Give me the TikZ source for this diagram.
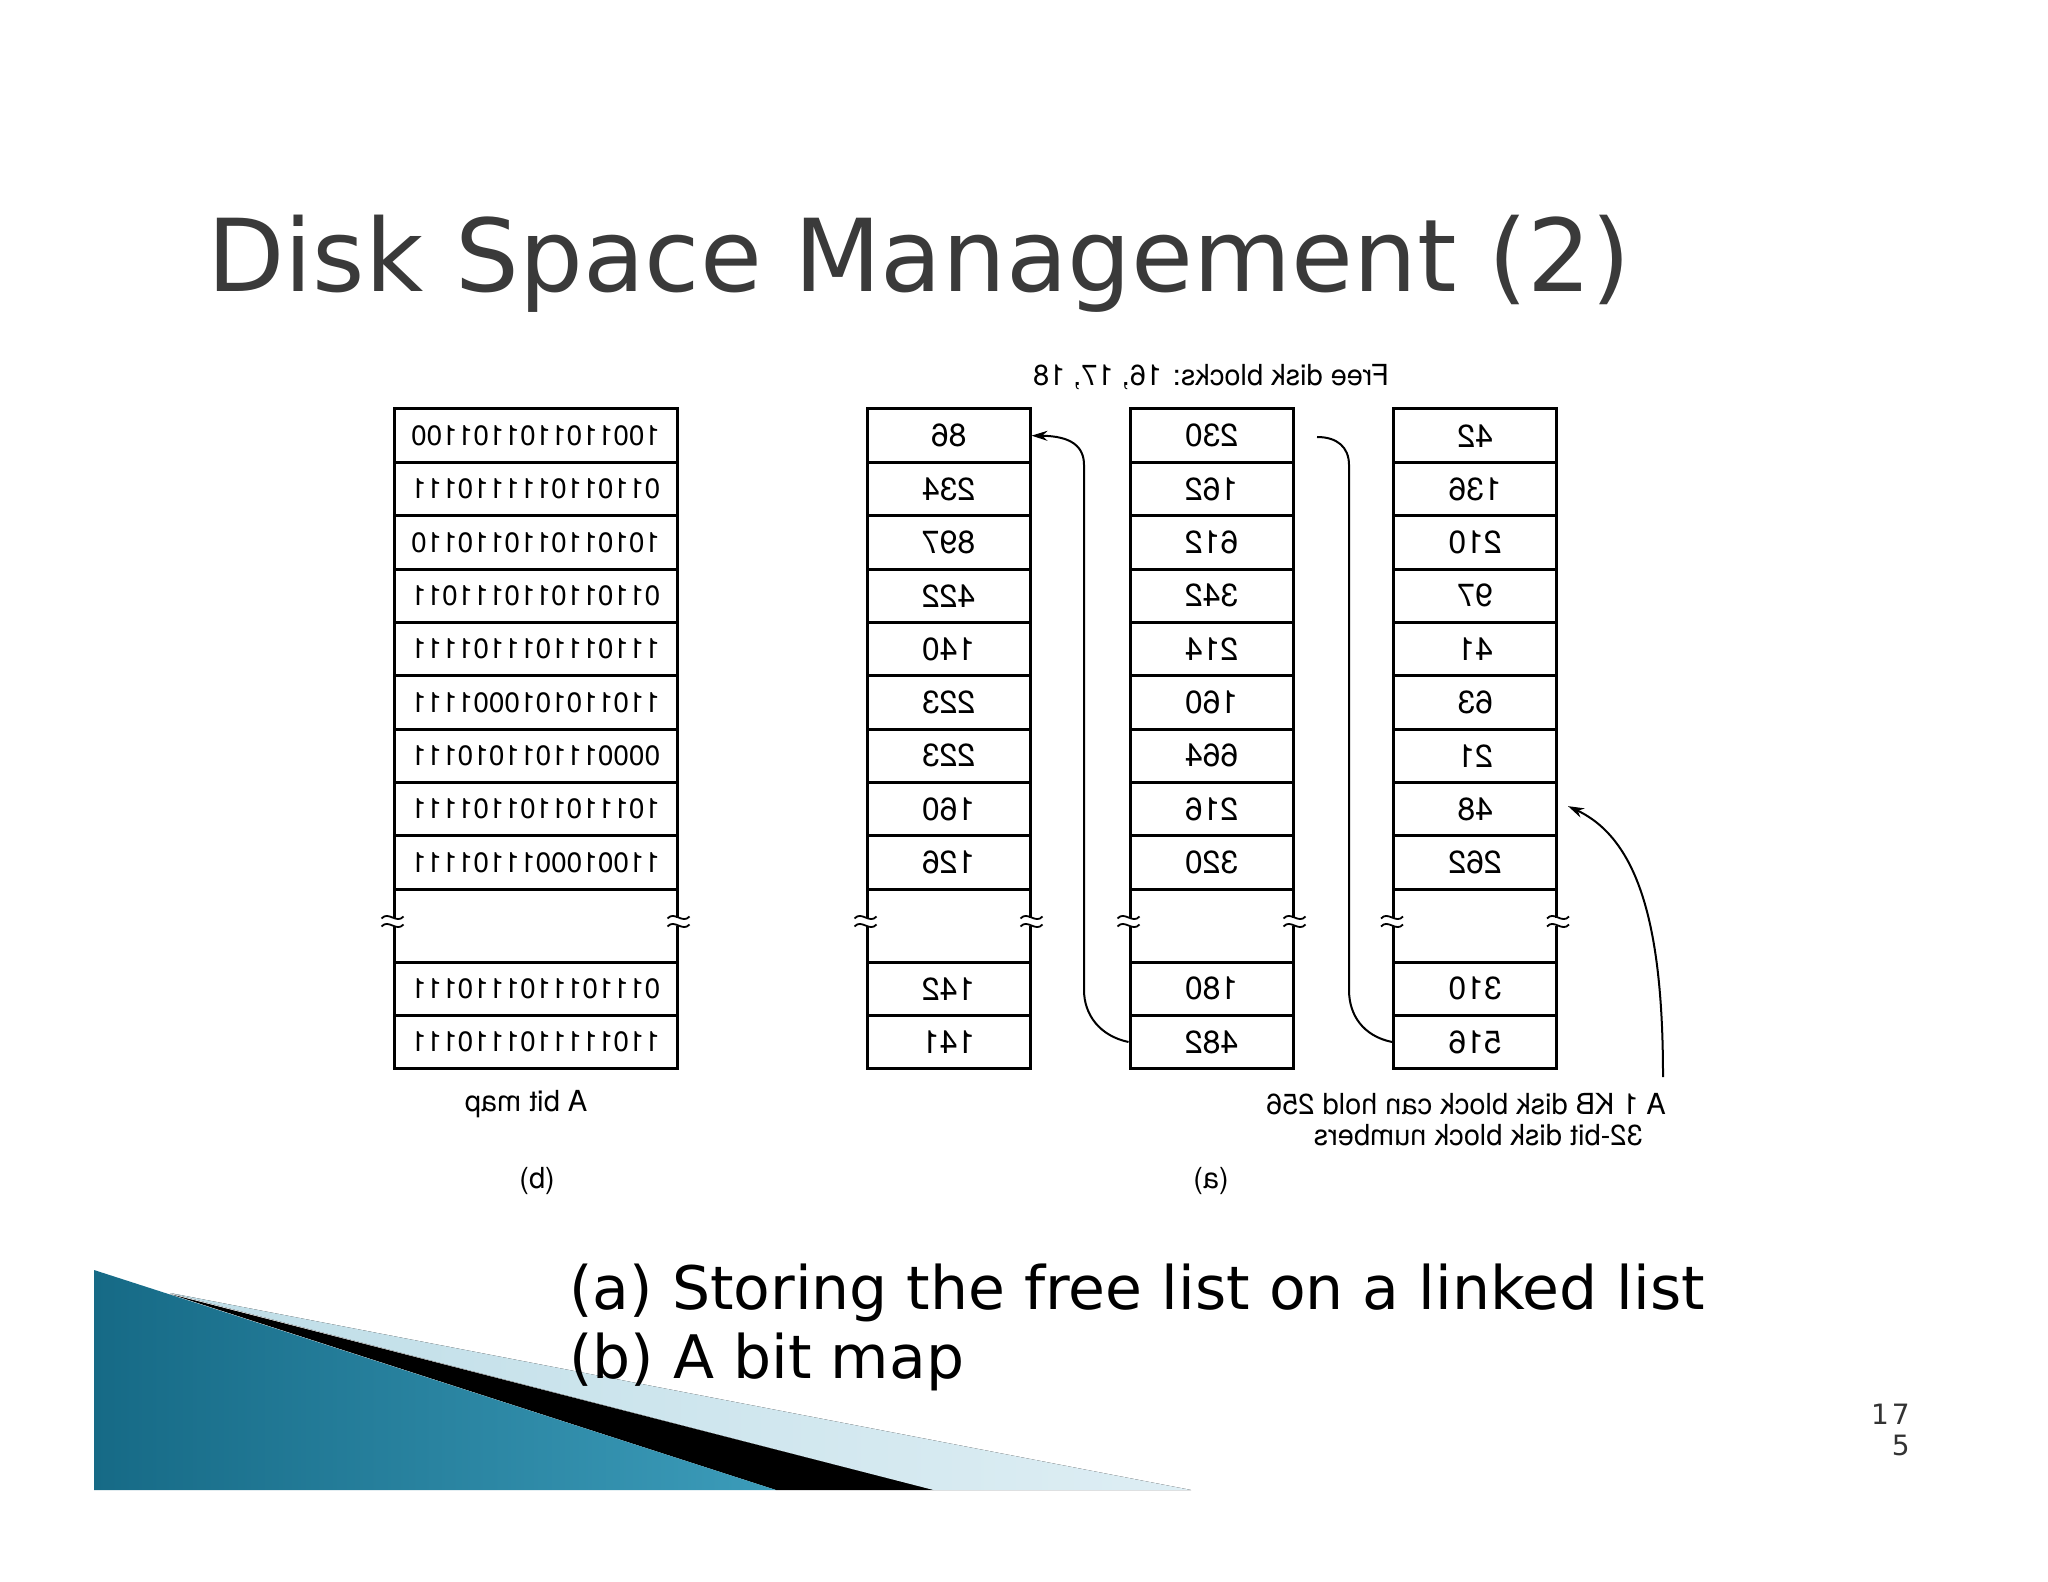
\documentclass[tikz,border=0pt]{standalone}
\usepackage{fontspec}
\setmainfont{DejaVu Sans}
\newfontfamily\arial{TeX Gyre Heros}
\usepackage{graphicx}
\usetikzlibrary{arrows.meta,calc}
\newcommand{\mir}[1]{\reflectbox{#1}}
\definecolor{titlegray}{RGB}{58,58,58}
\definecolor{tealA}{RGB}{22,106,134}
\definecolor{tealB}{RGB}{60,156,186}
\definecolor{paleA}{RGB}{190,221,231}
\definecolor{paleB}{RGB}{222,238,244}
\newcommand{\brkmark}[1]{%
  \begin{scope}[shift={(#1)},yshift=2pt]
    \fill[white] (-5,-4) rectangle (5,4);
    \draw[line width=0.9pt] (-11,-3) .. controls (-4,-11) and (4,3) .. (11,-5);
    \draw[line width=0.9pt] (-11,5) .. controls (-4,-3) and (4,11) .. (11,3);
  \end{scope}}
\begin{document}
\begin{tikzpicture}[x=0.5pt,y=-0.5pt,
  cell/.style={draw,line width=1.5pt,rectangle,inner sep=0pt,minimum height=26.675pt,
    font=\arial\fontsize{16}{18}\selectfont},
  listcell/.style={cell,minimum width=81.5pt},
  bitcell/.style={cell,minimum width=141.5pt,font=\arial\fontsize{14}{16}\selectfont},
  gapcell/.style={draw,line width=1.5pt,inner sep=0pt,minimum height=36.5pt},
  lbl/.style={inner sep=0pt,font=\arial\fontsize{14.5}{16}\selectfont},
  link/.style={line width=1pt},
  arrowed/.style={-{Stealth[length=8pt,width=5pt]}}
]
\fill[white] (0,0) rectangle (2048,1582);
\useasboundingbox (0,0) rectangle (2048,1582);

% decoration
\fill[left color=paleA,right color=paleB] (170,1293) -- (1191,1490) -- (933,1490) -- cycle;
\fill[black] (170,1294) -- (933,1490) -- (776,1490) -- cycle;
\shade[left color=tealA,right color=tealB] (94,1270) -- (776,1490) -- (94,1490) -- cycle;

% title
\node[anchor=base west,inner sep=0pt,text=titlegray,font=\fontsize{50.3}{56}\selectfont] (title) at (207,292) {Disk Space Management (2)};

% bitmap
\foreach \t [count=\i] in {1001101101101100,0110110111110111,1010110110110110,0110110110111011,1110111011101111,1101101010001111,0000111011010111,1011101101101111,1100100011101111}
  \node[bitcell] (b\i) at (535.5,{409+(\i-0.5)*53.35}) {\mir{\t}};
\node[gapcell,minimum width=141.5pt] (bg) at (535.5,925.5) {};
\node[bitcell] (b10) at (535.5,988.7) {\mir{0111011101110111}};
\node[bitcell] (b11) at (535.5,1042) {\mir{1101111101110111}};

% list column 1
\foreach \t [count=\i] in {86,234,897,422,140,223,223,160,126}
  \node[listcell] (p\i) at (948.5,{409+(\i-0.5)*53.35}) {\mir{\t}};
\node[gapcell,minimum width=81.5pt] (pg) at (948.5,925.5) {};
\node[listcell] (p10) at (948.5,988.7) {\mir{142}};
\node[listcell] (p11) at (948.5,1042) {\mir{141}};

% list column 2
\foreach \t [count=\i] in {230,162,612,342,214,160,664,216,320}
  \node[listcell] (q\i) at (1211.5,{409+(\i-0.5)*53.35}) {\mir{\t}};
\node[gapcell,minimum width=81.5pt] (qg) at (1211.5,925.5) {};
\node[listcell] (q10) at (1211.5,988.7) {\mir{180}};
\node[listcell] (q11) at (1211.5,1042) {\mir{482}};

% list column 3
\foreach \t [count=\i] in {42,136,210,97,41,63,21,48,262}
  \node[listcell] (r\i) at (1475,{409+(\i-0.5)*53.35}) {\mir{\t}};
\node[gapcell,minimum width=81.5pt] (rg) at (1475,925.5) {};
\node[listcell] (r10) at (1475,988.7) {\mir{310}};
\node[listcell] (r11) at (1475,1042) {\mir{516}};

% break marks
\brkmark{bg.west}\brkmark{bg.east}
\brkmark{pg.west}\brkmark{pg.east}
\brkmark{qg.west}\brkmark{qg.east}
\brkmark{rg.west}\brkmark{rg.east}

% labels
\node[lbl] (free) at (1211,377) {\mir{Free disk blocks: 16, 17, 18}};
\node[lbl] (bmlbl) at (526,1104) {\mir{A bit map}};
\node[lbl] (subb) at (537,1181) {\mir{(b)}};
\node[lbl] (suba) at (1211,1181) {\mir{(a)}};
\node[lbl] (kb1) at (1466,1104) {\mir{A 1 KB disk block can hold 256}};
\node[lbl] (kb2) at (1478,1135) {\mir{32-bit disk block numbers}};

% connectors
\coordinate (hookend) at (1317,437);
\coordinate (kbstart) at (1663,1077);
\draw[link,arrowed] (q11.west) .. controls (1100,1036) and (1084,1015) .. (1084,990)
  -- (1084,465) .. controls (1084,447) and (1072,436) .. (p1.east);
\draw[link] (r11.west) .. controls (1363,1036) and (1349,1015) .. (1349,990)
  -- (1349,465) .. controls (1349,447) and (1337,437) .. (hookend);
\draw[link,arrowed] (kbstart) .. controls (1663,930) and (1640,840) .. ($(r8.east)+(10,-3)$);

% caption
\node[anchor=base west,inner sep=0pt,font=\fontsize{30}{34}\selectfont] (cap1) at (569,1309) {(a) Storing the free list on a linked list};
\node[anchor=base west,inner sep=0pt,font=\fontsize{30}{34}\selectfont] (cap2) at (569,1378) {(b) A bit map};

% page number
\node[anchor=base east,inner sep=0pt,text=black!80,font=\fontsize{14}{16}\selectfont] (pg1) at (1910,1424) {1\hspace{1.5pt}7};
\node[anchor=base east,inner sep=0pt,text=black!80,font=\fontsize{14}{16}\selectfont] (pg2) at (1910,1455) {5};
\end{tikzpicture}
\end{document}
